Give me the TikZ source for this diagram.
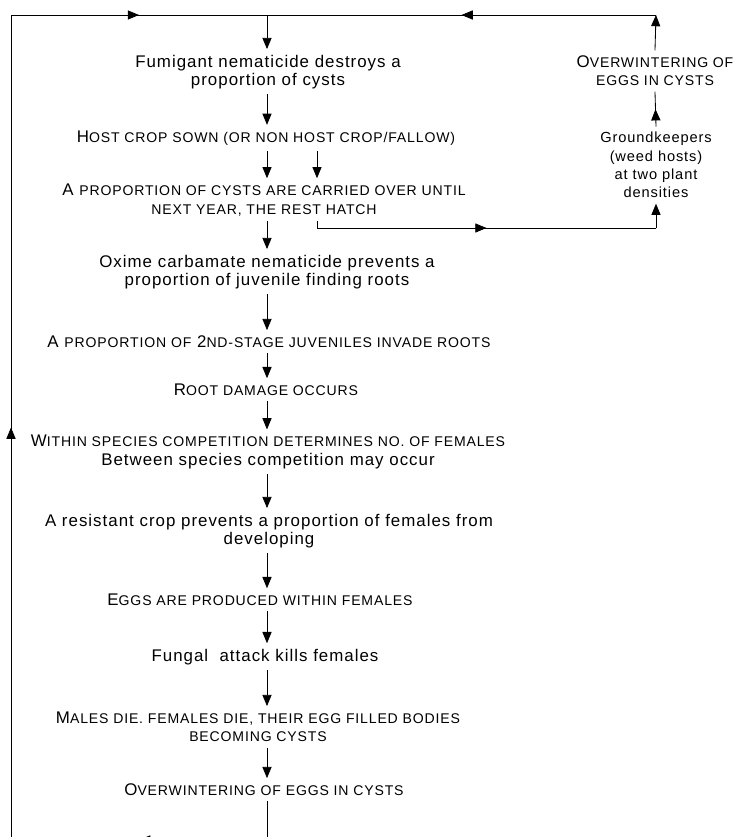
\documentclass[tikz,border=0pt]{standalone}
\usepackage{fontspec}
\setmainfont{Liberation Sans}[LetterSpace=6]
\usetikzlibrary{arrows.meta,decorations.markings,positioning}
\newcommand{\smc}[1]{{\fontsize{10}{12}\selectfont #1}}

\tikzset{
  box/.style={align=center, inner xsep=2pt, inner ysep=4pt, font=\fontsize{12}{13}\selectfont},
  link/.style={line width=0.6pt, line cap=rect},
  arr/.style={link, -{Triangle[length=8pt,width=6.5pt]}},
  midarr/.style={link, decoration={markings, mark=at position 0.5 with {\arrow{Triangle[length=8pt,width=6.5pt]}}}, postaction={decorate}},
}

\begin{document}
\begin{tikzpicture}[x=0.025cm, y=-0.025cm]
    \useasboundingbox (0,0) rectangle (741,837);

    % main column
    \node[box] (fumig) at (268,72) {Fumigant nematicide destroys a\\proportion of cysts};
    \node[box] (host) at (266,138) {H\smc{OST CROP SOWN (OR NON HOST CROP/FALLOW)}};
    \node[box] (carry) at (264,200) {A \smc{PROPORTION OF CYSTS ARE CARRIED OVER UNTIL}\\\smc{NEXT YEAR, THE REST HATCH}};
    \node[box] (oxime) at (267,272) {Oxime carbamate nematicide prevents a\\proportion of juvenile finding roots};
    \node[box] (invade) at (269,342) {A \smc{PROPORTION OF} 2\smc{ND-STAGE JUVENILES INVADE ROOTS}};
    \node[box] (damage) at (266,390) {R\smc{OOT DAMAGE OCCURS}};
    \node[box] (compet) at (268,452) {W\smc{ITHIN SPECIES COMPETITION DETERMINES NO. OF FEMALES}\\Between species competition may occur};
    \node[box] (resist) at (269,531) {A resistant crop prevents a proportion of females from\\developing};
    \node[box] (eggs) at (260,600) {E\smc{GGS ARE PRODUCED WITHIN FEMALES}};
    \node[box] (fungal) at (265,657) {Fungal\ \ attack kills females};
    \node[box] (cysts) at (258,727) {M\smc{ALES DIE. FEMALES DIE, THEIR EGG FILLED BODIES}\\\smc{BECOMING CYSTS}};
    \node[box] (winter) at (264,790) {O\smc{VERWINTERING OF EGGS IN CYSTS}};

    % side branch
    \node[box] (winterR) at (655,71) {O\smc{VERWINTERING OF}\\\smc{EGGS IN CYSTS}};
    \node[box, font=\fontsize{10.4}{13}\selectfont] (gkeep) at (656,165) {Groundkeepers\\(weed hosts)\\at two plant\\densities};

    \coordinate (spine) at (267,0);
    \coordinate (tl) at (11,15);
    \coordinate (tm) at (267,15);
    \coordinate (tr) at (656,15);
    \coordinate (bl) at (11,840);
    \coordinate (bm) at (267,840);
    \coordinate (bk) at (317,228);
    \coordinate (bkr) at (656,228);

    \draw[arr] (tm) -- (fumig.north -| spine);
    \draw[arr] (fumig.south -| spine) -- (host.north -| spine);
    \draw[arr] (host.south -| spine) -- (carry.north -| spine);
    \draw[arr] (host.south -| bk) -- (carry.north -| bk);
    \draw[arr] (carry.south -| spine) -- (oxime.north -| spine);
    \draw[arr] (oxime.south -| spine) -- (invade.north -| spine);
    \draw[arr] (invade.south -| spine) -- (damage.north -| spine);
    \draw[arr] (damage.south -| spine) -- (compet.north -| spine);
    \draw[arr] (compet.south -| spine) -- (resist.north -| spine);
    \draw[arr] (resist.south -| spine) -- (eggs.north -| spine);
    \draw[arr] (eggs.south -| spine) -- (fungal.north -| spine);
    \draw[arr] (fungal.south -| spine) -- (cysts.north -| spine);
    \draw[arr] (cysts.south -| spine) -- (winter.north -| spine);

    % carried over cysts
    \draw[link] (carry.south -| bk) -- (bk);
    \draw[midarr] (bk) -- (bkr);
    \draw[arr] (bkr) -- (gkeep.south);
    \draw[midarr] (gkeep.north) -- (winterR.south);
    \draw[arr] (winterR.north) -- (tr);
    \draw[midarr] (tr) -- (tm);

    % back to next year
    \draw[link] (winter.south -| spine) -- (bm);
    \draw[midarr] (bm) -- (bl);
    \draw[midarr] (bl) -- (tl);
    \draw[midarr] (tl) -- (tm);
\end{tikzpicture}
\end{document}
